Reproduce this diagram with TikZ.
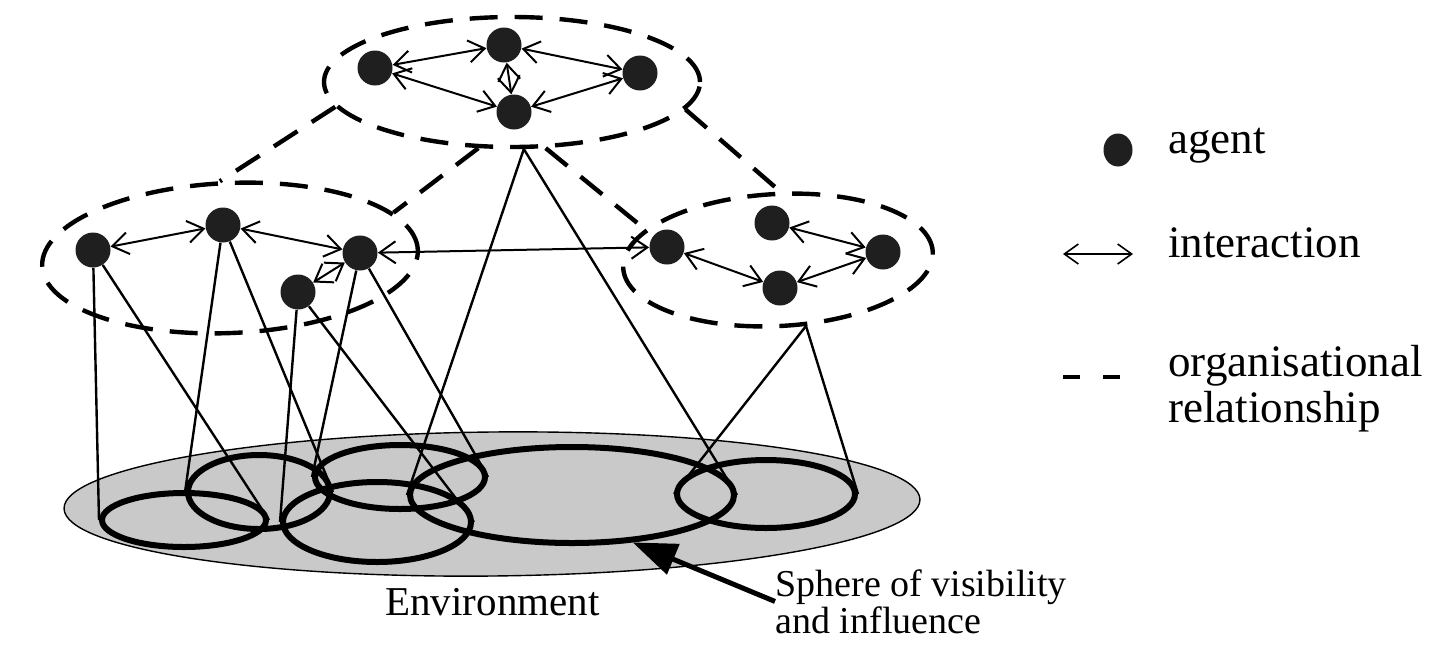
\documentclass[tikz,border=0pt]{standalone}
\usepackage{fontspec}
\setmainfont{Liberation Serif}
\usetikzlibrary{shapes.geometric,arrows.meta}
\begin{document}
\begin{tikzpicture}[x=0.5pt,y=-0.5pt,
  agent/.style={circle,fill=black!88,inner sep=0pt,minimum size=17.5pt},
  group/.style={ellipse,draw,line width=2.2pt,dash pattern=on 14pt off 8.5pt,inner sep=0pt},
  sphere/.style={ellipse,draw,line width=3pt,inner sep=0pt},
  inter/.style={line width=1pt,{Straight Barb[length=8pt,width=11pt]}-{Straight Barb[length=8pt,width=11pt]}},
  proj/.style={line width=1.2pt},
  org/.style={line width=2.2pt,dash pattern=on 14pt off 8.5pt},
  lbl/.style={inner sep=0pt,font=\rmfamily\fontsize{22.5}{23}\selectfont}
]
\useasboundingbox (0,0) rectangle (1434,665);
% environment
\node[ellipse,draw,line width=0.7pt,fill=black!21,inner sep=0pt,minimum width=428pt,minimum height=72pt,rotate=0.6] (env) at (492,504) {};
% spheres
\node[sphere,minimum width=82pt,minimum height=27pt] (E1) at (184,520) {};
\node[sphere,minimum width=71pt,minimum height=37pt] (E2) at (259,492) {};
\node[sphere,minimum width=94pt,minimum height=40pt] (E3) at (377,522) {};
\node[sphere,minimum width=85pt,minimum height=32pt] (E4) at (400,477) {};
\node[sphere,minimum width=162pt,minimum height=48pt] (E5) at (572,495) {};
\node[sphere,minimum width=89pt,minimum height=34pt] (E6) at (766,494) {};
% groups
\node[group,minimum width=188pt,minimum height=65pt] (T) at (512,82) {};
\node[group,minimum width=188pt,minimum height=75pt,rotate=2.5] (Lg) at (230,258) {};
\node[group,minimum width=155pt,minimum height=66pt,rotate=3] (Rg) at (778,260) {};
% agents
\node[agent] (A1) at (375,68) {};
\node[agent] (A2) at (504,45) {};
\node[agent] (A3) at (640,73) {};
\node[agent] (A4) at (514,112) {};
\node[agent] (L1) at (93,250) {};
\node[agent] (L2) at (223,225) {};
\node[agent] (L3) at (360,253) {};
\node[agent] (L4) at (298,292) {};
\node[agent] (R1) at (667,247) {};
\node[agent] (R2) at (772,223) {};
\node[agent] (R3) at (883,252) {};
\node[agent] (R4) at (780,288) {};
% organisational relationships
\draw[org] (T.188) -- (Lg.95);
\draw[org] (T.243) -- (Lg.13);
\draw[org] (T.-63) -- (Rg.164);
\draw[org] (T.-9) -- (Rg.85);
% projections
\draw[proj] (L1) -- (E1.west);
\draw[proj] (L1) -- (E1.east);
\draw[proj] (L2) -- (E2.west);
\draw[proj] (L2) -- (E2.east);
\draw[proj] (L4) -- (E3.west);
\draw[proj] (L4) -- (E3.east);
\draw[proj] (L3) -- (E4.west);
\draw[proj] (L3) -- (E4.east);
\draw[proj] (T.-80) -- (E5.west);
\draw[proj] (T.-80) -- (E5.east);
\draw[proj] (Rg.-70) -- (E6.west);
\draw[proj] (Rg.-70) -- (E6.east);
% interactions
\draw[inter] (A1) -- (A2);
\draw[inter] (A2) -- (A3);
\draw[inter] (A2) -- (A4);
\draw[inter] (A1) -- (A4);
\draw[inter] (A3) -- (A4);
\draw[inter] (L1) -- (L2);
\draw[inter] (L2) -- (L3);
\draw[inter] (L3) -- (L4);
\draw[inter] (L3) -- (R1);
\draw[inter] (R2) -- (R3);
\draw[inter] (R3) -- (R4);
\draw[inter] (R1) -- (R4);
% labels
\node[inner sep=0pt,anchor=base west,font=\rmfamily\fontsize{20.5}{22}\selectfont] (envtxt) at (385,615) {Environment};
\node[inner sep=0pt,anchor=north west,align=left,font=\rmfamily\fontsize{19}{15}\selectfont] (sph) at (775,569) {Sphere of visibility\\and influence};
\draw[line width=2.5pt,-{Triangle[length=22pt,width=16pt]}] (sph.west) -- (E5.-38);
% legend
\node[ellipse,fill=black!88,inner sep=0pt,minimum width=14.5pt,minimum height=16.5pt] (key1) at (1118,150) {};
\node[lbl,anchor=base west] (t1) at (1168,153) {agent};
\coordinate (k2a) at (1063,254);
\coordinate (k2b) at (1133,254);
\draw[line width=0.8pt,{Straight Barb[length=7pt,width=10pt]}-{Straight Barb[length=7pt,width=10pt]}] (k2a) -- (k2b);
\node[lbl,anchor=base west] (t2) at (1168,257) {interaction};
\coordinate (k3a) at (1063,377);
\coordinate (k3b) at (1122,377);
\draw[line width=2pt,dash pattern=on 8.5pt off 11.5pt] (k3a) -- (k3b);
\node[lbl,anchor=north west,align=left] (t3) at (1168,345) {organisational\\relationship};
\end{tikzpicture}
\end{document}
